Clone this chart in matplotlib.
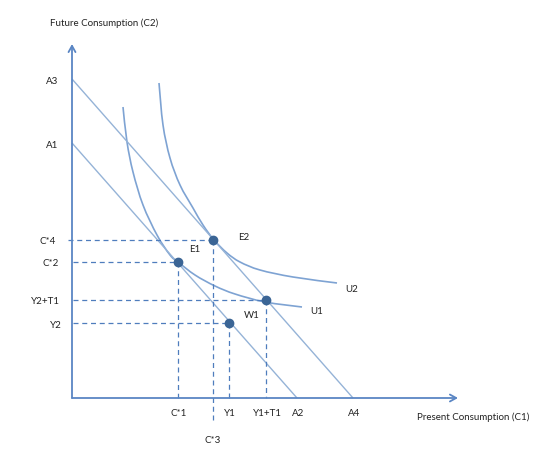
import matplotlib
matplotlib.use("Agg")
import matplotlib.pyplot as plt
from matplotlib.path import Path
from matplotlib.patches import PathPatch

# ---- data (diagram units: origin at the axes corner) ----
A1, A2 = 255, 225          # inner budget line intercepts
A3, A4 = 319, 281          # outer budget line intercepts
E1 = (106, 136)            # C*1, C*2
E2 = (141, 158)            # C*3, C*4
W1 = (157, 75)             # Y1, Y2
P2 = (194, 98)             # Y1+T1, Y2+T1

u1_x = [51, 55, 61, 71, 85, 98, 106, 123, 143, 163, 193, 230]
u1_y = [291, 256, 226, 193, 163, 143, 136, 123, 112, 104, 96, 91]
u2_x = [87, 91, 98, 108, 121, 131, 142, 155, 168, 188, 221, 265]
u2_y = [315, 273, 240, 213, 190, 173, 158, 145, 136, 128, 121, 115]

x_ticks = [E1[0], W1[0], P2[0], A2, A4]
x_tick_labels = ["C*1", "Y1", "Y1+T1", "A2", "A4"]
y_ticks = [A3, A1, E2[1], E1[1], P2[1], W1[1]]
y_tick_labels = ["A3", "A1", "C*4", "C*2", "Y2+T1", "Y2"]

# ---- styles ----
LINE = "#95b3d7"
CURVE = "#7ea3d3"
AXIS = "#5a86c4"
DASH = "#4f7dbd"
DOT = "#3b6595"
TXT = "#222222"
plt.rcParams["font.family"] = ["Lato", "DejaVu Sans"]
FS = 7

fig = plt.figure(figsize=(5.6, 4.61), dpi=100)
ax = fig.add_axes([0, 0, 1, 1])
ax.set_xlim(-72, 488)
ax.set_ylim(-63, 398)
ax.axis("off")


def smooth_curve(xs, ys, **kw):
    """Draw a smooth Bezier path through the read points."""
    pts = list(zip(xs, ys))
    n = len(pts)
    verts = [pts[0]]
    codes = [Path.MOVETO]
    for i in range(n - 1):
        p0 = pts[max(i - 1, 0)]
        p1 = pts[i]
        p2 = pts[i + 1]
        p3 = pts[min(i + 2, n - 1)]
        c1 = (p1[0] + (p2[0] - p0[0]) / 6, p1[1] + (p2[1] - p0[1]) / 6)
        c2 = (p2[0] - (p3[0] - p1[0]) / 6, p2[1] - (p3[1] - p1[1]) / 6)
        verts += [c1, c2, p2]
        codes += [Path.CURVE4] * 3
    ax.add_patch(PathPatch(Path(verts, codes), fill=False, **kw))


# axes with open arrowheads
ax.annotate("", xy=(0, 354), xytext=(0, 0),
            arrowprops=dict(arrowstyle="->,head_length=0.45,head_width=0.25",
                            color=AXIS, lw=1.3, shrinkA=0, shrinkB=0))
ax.annotate("", xy=(386, 0), xytext=(0, 0),
            arrowprops=dict(arrowstyle="->,head_length=0.45,head_width=0.25",
                            color=AXIS, lw=1.3, shrinkA=0, shrinkB=0))

# budget lines
ax.plot([0, A2], [A1, 0], color=LINE, lw=1.0, solid_capstyle="butt")
ax.plot([0, A4], [A3, 0], color=LINE, lw=1.0, solid_capstyle="butt")

# indifference curves
smooth_curve(u1_x, u1_y, edgecolor=CURVE, lw=1.2)
smooth_curve(u2_x, u2_y, edgecolor=CURVE, lw=1.2)

# dashed guides
dash = dict(color=DASH, lw=0.9, ls=(0, (4, 3)))
ax.plot([-4, E2[0]], [E2[1], E2[1]], **dash)
ax.plot([E2[0], E2[0]], [E2[1], -25], **dash)
for px, py in [E1, W1, P2]:
    ax.plot([1, px], [py, py], **dash)
    ax.plot([px, px], [py, 0], **dash)

# points
for px, py in [E1, E2, W1, P2]:
    ax.plot(px, py, "o", color=DOT, ms=6, zorder=5)

# labels
ax.text(50 - 72, 398 - 23, "Future Consumption (C2)", fontsize=FS, color=TXT,
        ha="left", va="center")
ax.text(417 - 72, 398 - 417, "Present Consumption (C1)", fontsize=FS, color=TXT,
        ha="left", va="center")

y_label_x = [52, 52, 48, 51, 45, 56]
for v, lab, lx in zip(y_ticks, y_tick_labels, y_label_x):
    ax.text(lx - 72, v - 2, lab, fontsize=FS, color=TXT, ha="center", va="center")
for v, lab in zip(x_ticks, x_tick_labels):
    ax.text(v + 1, -15, lab, fontsize=FS, color=TXT, ha="center", va="center")
ax.text(E2[0], -42, "C*3", fontsize=FS, color=TXT, ha="center", va="center")

ax.text(195 - 72, 398 - 250, "E1", fontsize=FS, color=TXT, ha="center", va="center")
ax.text(244 - 72, 398 - 238, "E2", fontsize=FS, color=TXT, ha="center", va="center")
ax.text(252 - 72, 398 - 316, "W1", fontsize=FS, color=TXT, ha="center", va="center")
ax.text(352 - 72, 398 - 290, "U2", fontsize=FS, color=TXT, ha="center", va="center")
ax.text(317 - 72, 398 - 311, "U1", fontsize=FS, color=TXT, ha="center", va="center")

fig.savefig("out.png", dpi=100, facecolor="white")
